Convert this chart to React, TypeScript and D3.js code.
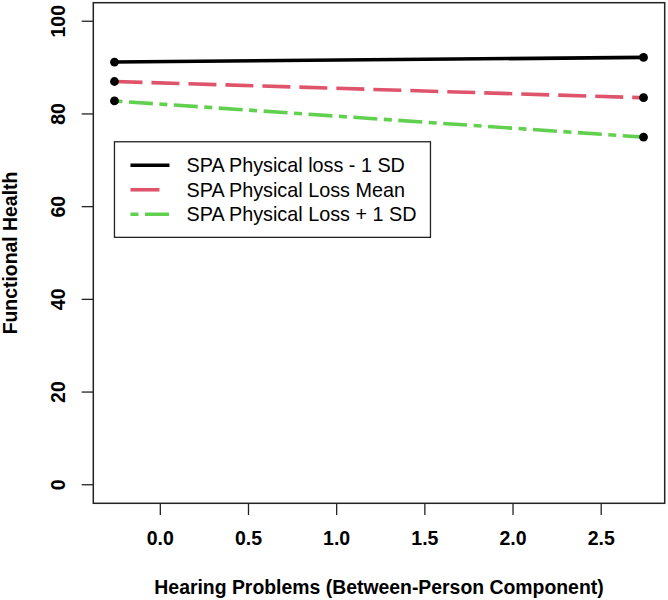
import React, { useEffect, useRef } from "react";
import * as d3 from "d3";

// values
const xVals = [-0.26, 2.74];
const lowSD = [91.2, 92.2];
const meanVals = [87.0, 83.5];
const highSD = [82.8, 75.0];
const seriesNames = [
  "SPA Physical loss - 1 SD",
  "SPA Physical Loss Mean",
  "SPA Physical Loss + 1 SD",
];
const xTicks = [0, 0.5, 1, 1.5, 2, 2.5];
const yTicks = [0, 20, 40, 60, 80, 100];

const W = 668;
const H = 600;
const font = "'Liberation Sans', Arial, Helvetica, sans-serif";

export default function App() {
  const ref = useRef<SVGSVGElement>(null);

  useEffect(() => {
    const svg = d3.select(ref.current);
    svg.selectAll("*").remove();

    // R style 4% padding around the data range
    const xScale = d3.scaleLinear().domain([-0.38, 2.86]).range([93.3, 664.7]);
    const yScale = d3.scaleLinear().domain([-4, 104]).range([503.3, 2.7]);

    const series = [
      { name: seriesNames[0], vals: lowSD, color: "#000000", dash: null, legDash: null },
      { name: seriesNames[1], vals: meanVals, color: "#DF536B", dash: "28 9", legDash: "29 20" },
      { name: seriesNames[2], vals: highSD, color: "#61D04F", dash: "8 6.5 24 6.5", legDash: "8 6.5 24 6.5" },
    ];

    const line = d3
      .line<number>()
      .x((_, i) => xScale(xVals[i]))
      .y((d) => yScale(d));

    series.forEach((s) => {
      svg
        .append("path")
        .attr("d", line(s.vals))
        .attr("fill", "none")
        .attr("stroke", s.color)
        .attr("stroke-width", 3.6)
        .attr("stroke-dasharray", s.dash)
        .attr("stroke-linecap", "butt");
    });

    series.forEach((s) => {
      svg
        .selectAll(null)
        .data(s.vals)
        .enter()
        .append("circle")
        .attr("cx", (_, i) => xScale(xVals[i]))
        .attr("cy", (d) => yScale(d))
        .attr("r", 4.4)
        .attr("fill", "#000");
    });

    // plot box
    const [x0, x1] = xScale.range();
    const [y0, y1] = yScale.range();
    svg
      .append("rect")
      .attr("x", x0)
      .attr("y", y1)
      .attr("width", x1 - x0)
      .attr("height", y0 - y1)
      .attr("fill", "none")
      .attr("stroke", "#222")
      .attr("stroke-width", 1.5);

    // x axis
    const xa = svg.append("g");
    xa.selectAll("line")
      .data(xTicks)
      .enter()
      .append("line")
      .attr("x1", (d) => xScale(d))
      .attr("x2", (d) => xScale(d))
      .attr("y1", y0)
      .attr("y2", y0 + 11.7)
      .attr("stroke", "#222")
      .attr("stroke-width", 1.3);
    xa.selectAll("text")
      .data(xTicks)
      .enter()
      .append("text")
      .text((d) => d3.format(".1f")(d))
      .attr("x", (d) => xScale(d))
      .attr("y", 545)
      .attr("text-anchor", "middle")
      .attr("font-family", font)
      .attr("font-weight", "bold")
      .attr("font-size", 19.5)
      .attr("fill", "#000");

    // y axis
    const ya = svg.append("g");
    ya.selectAll("line")
      .data(yTicks)
      .enter()
      .append("line")
      .attr("x1", x0 - 11.6)
      .attr("x2", x0)
      .attr("y1", (d) => yScale(d))
      .attr("y2", (d) => yScale(d))
      .attr("stroke", "#222")
      .attr("stroke-width", 1.3);
    ya.selectAll("text")
      .data(yTicks)
      .enter()
      .append("text")
      .text((d) => String(d))
      .attr("transform", (d) => `translate(65,${yScale(d)}) rotate(-90)`)
      .attr("text-anchor", "middle")
      .attr("font-family", font)
      .attr("font-weight", "bold")
      .attr("font-size", 19.5)
      .attr("fill", "#000");

    // axis titles
    svg
      .append("text")
      .text("Hearing Problems (Between-Person Component)")
      .attr("x", (x0 + x1) / 2)
      .attr("y", 594)
      .attr("text-anchor", "middle")
      .attr("font-family", font)
      .attr("font-weight", "bold")
      .attr("font-size", 19.4)
      .attr("fill", "#000");
    svg
      .append("text")
      .text("Functional Health")
      .attr("transform", `translate(17,${(y0 + y1) / 2}) rotate(-90)`)
      .attr("text-anchor", "middle")
      .attr("font-family", font)
      .attr("font-weight", "bold")
      .attr("font-size", 19.4)
      .attr("fill", "#000");

    // legend anchored at data point (-0.26, 74)
    const lx = xScale(-0.26);
    const ly = yScale(74);
    const lg = svg.append("g").attr("transform", `translate(${lx},${ly})`);
    lg.append("rect")
      .attr("width", 316)
      .attr("height", 95.6)
      .attr("fill", "#fff")
      .attr("stroke", "#222")
      .attr("stroke-width", 1.3);
    series.forEach((s, i) => {
      const cy = 23.5 + i * 24.5;
      lg.append("line")
        .attr("x1", 16)
        .attr("x2", 55)
        .attr("y1", cy)
        .attr("y2", cy)
        .attr("stroke", s.color)
        .attr("stroke-width", 3.6)
        .attr("stroke-dasharray", s.legDash);
      lg.append("text")
        .text(s.name)
        .attr("x", 72)
        .attr("y", cy + 7)
        .attr("font-family", font)
        .attr("font-size", 19.8)
        .attr("fill", "#000");
    });
  }, []);

  return (
    <svg
      ref={ref}
      width={W}
      height={H}
      style={{ position: "absolute", left: 0, top: 0, background: "#fff" }}
    />
  );
}
